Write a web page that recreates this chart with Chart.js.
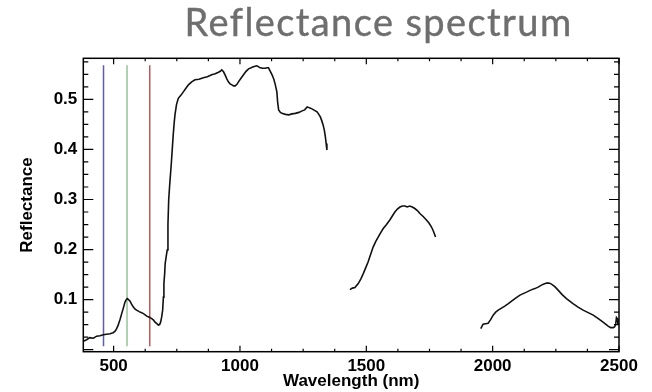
<!DOCTYPE html>
<html>
<head>
<meta charset="utf-8">
<script src="https://cdn.jsdelivr.net/npm/chart.js@4/dist/chart.umd.min.js"></script>
<style>
html,body{margin:0;padding:0;background:#fff;}
#wrap{position:relative;width:652px;height:392px;overflow:hidden;}
#title{position:absolute;left:104px;top:-1px;width:549px;text-align:center;font-family:Lato,"Open Sans",sans-serif;font-size:38px;line-height:1.2;letter-spacing:1.4px;color:#6e6e6e;white-space:nowrap;-webkit-text-stroke:0.4px #6e6e6e;}
#c{position:absolute;left:0;top:0;}
</style>
</head>
<body>
<div id="wrap">
<canvas id="c" width="652" height="392"></canvas>
<div id="title">Reflectance spectrum</div>
</div>
<script>
// ---- data ----
const seg1Wavelength = [380,393,406,420,433,446,459,472,486,498,506,512,518,525,532,539,545,550,554,559,565,571,578,585,591,601,611,621,631,641,651,658,664,671,677,682,686,690,694,697,699,702,704,708,712,715,718,722,728,732,736,740,743,749,756,766,776,786,796,809,822,838,855,871,888,902,915,922,928,935,941,948,954,961,968,975,981,988,994,1004,1014,1024,1034,1044,1053,1060,1067,1074,1080,1090,1100,1107,1113,1120,1127,1134,1140,1146,1149,1153,1160,1166,1180,1193,1206,1219,1233,1246,1256,1266,1275,1285,1295,1305,1312,1318,1324,1329,1334,1338,1341,1344];
const seg1Reflectance = [0.017,0.020,0.024,0.023,0.027,0.028,0.030,0.031,0.032,0.034,0.037,0.042,0.049,0.060,0.072,0.084,0.095,0.100,0.102,0.100,0.097,0.091,0.085,0.081,0.079,0.076,0.074,0.071,0.067,0.065,0.062,0.059,0.055,0.052,0.049,0.050,0.055,0.065,0.079,0.105,0.132,0.152,0.172,0.186,0.199,0.250,0.300,0.330,0.370,0.400,0.430,0.455,0.470,0.490,0.502,0.508,0.515,0.522,0.529,0.535,0.539,0.540,0.543,0.545,0.549,0.551,0.554,0.556,0.559,0.555,0.549,0.541,0.535,0.531,0.529,0.527,0.527,0.530,0.535,0.542,0.549,0.556,0.561,0.563,0.565,0.566,0.567,0.565,0.563,0.562,0.562,0.563,0.563,0.556,0.549,0.540,0.529,0.515,0.495,0.479,0.474,0.472,0.470,0.469,0.471,0.472,0.474,0.477,0.479,0.485,0.483,0.481,0.478,0.475,0.470,0.465,0.457,0.449,0.438,0.425,0.412,0.399];

const seg2Wavelength = [1435,1445,1455,1468,1478,1488,1497,1507,1517,1527,1537,1547,1557,1567,1580,1593,1603,1613,1623,1633,1643,1653,1662,1672,1682,1692,1702,1712,1725,1738,1748,1758,1766,1774];
const seg2Reflectance = [0.120,0.123,0.124,0.132,0.141,0.152,0.163,0.175,0.190,0.205,0.216,0.225,0.234,0.242,0.250,0.259,0.267,0.275,0.281,0.285,0.287,0.287,0.285,0.287,0.285,0.282,0.278,0.272,0.266,0.259,0.253,0.245,0.236,0.225];

const seg3Wavelength = [1953,1962,1972,1982,1992,2002,2012,2022,2035,2048,2062,2075,2091,2108,2121,2134,2150,2167,2180,2193,2203,2213,2223,2233,2246,2259,2275,2292,2305,2318,2338,2358,2378,2398,2418,2437,2447,2457,2467,2477,2483,2487,2490,2493,2496];
const seg3Reflectance = [0.042,0.051,0.052,0.053,0.060,0.069,0.075,0.079,0.083,0.087,0.092,0.097,0.103,0.109,0.112,0.115,0.119,0.122,0.125,0.129,0.131,0.133,0.133,0.131,0.126,0.119,0.110,0.102,0.097,0.092,0.085,0.079,0.074,0.069,0.062,0.055,0.051,0.047,0.044,0.044,0.046,0.052,0.064,0.062,0.050];

const bandWavelengths = [460, 553, 643];      // blue, green, red marker lines
const bandReflectanceRange = [0.007, 0.568];  // vertical extent of marker lines

const xTickValues = [500, 1000, 1500, 2000, 2500];
const yTickValues = [0.1, 0.2, 0.3, 0.4, 0.5];
const xMinorStep = 125;
const yMinorStep = 0.025;

// ---- chart ----
const toPts = (xs, ys) => xs.map((x, i) => ({x: x, y: ys[i]}));
const bandColors = ['#5e5ea8', '#95c495', '#b85a5a'];

const curveStyle = {borderColor: '#111', borderWidth: 1.6, pointRadius: 0, tension: 0, fill: false};
const datasets = [
  Object.assign({label: 'seg1', data: toPts(seg1Wavelength, seg1Reflectance)}, curveStyle),
  Object.assign({label: 'seg2', data: toPts(seg2Wavelength, seg2Reflectance)}, curveStyle),
  Object.assign({label: 'seg3', data: toPts(seg3Wavelength, seg3Reflectance)}, curveStyle)
];
bandWavelengths.forEach((w, i) => {
  datasets.push({
    label: 'band' + i,
    data: bandReflectanceRange.map(r => ({x: w, y: r})),
    borderColor: bandColors[i], borderWidth: 1.5, pointRadius: 0, fill: false
  });
});

const tickFont = {family: '"Liberation Sans", Arial, sans-serif', weight: 'bold', size: 17};

const frameTicks = {
  id: 'frameTicks',
  afterDatasetsDraw(chart) {
    const {ctx, chartArea: a, scales: {x, y}} = chart;
    ctx.save();
    ctx.strokeStyle = '#000';
    ctx.lineWidth = 1.2;
    ctx.beginPath();
    for (let k = Math.ceil(x.min / xMinorStep); k * xMinorStep <= x.max + 1e-9; k++) {
      const v = k * xMinorStep;
      const px = x.getPixelForValue(v);
      const len = (v % 500 === 0) ? 6 : 3;
      ctx.moveTo(px, a.bottom); ctx.lineTo(px, a.bottom - len);
      ctx.moveTo(px, a.top); ctx.lineTo(px, a.top + len);
    }
    for (let k = Math.ceil(y.min / yMinorStep - 1e-9); k * yMinorStep <= y.max + 1e-9; k++) {
      const v = k * yMinorStep;
      const py = y.getPixelForValue(v);
      const len = (k % 4 === 0) ? 10 : 5;
      ctx.moveTo(a.left, py); ctx.lineTo(a.left + len, py);
      ctx.moveTo(a.right, py); ctx.lineTo(a.right - len, py);
    }
    ctx.stroke();
    ctx.lineWidth = 1.5;
    ctx.strokeRect(a.left, a.top, a.right - a.left, a.bottom - a.top);
    ctx.restore();
  }
};

new Chart(document.getElementById('c'), {
  type: 'line',
  data: {datasets: datasets},
  options: {
    responsive: false,
    animation: false,
    events: [],
    layout: {padding: {top: 58.3, right: 33, bottom: 0, left: 0}},
    plugins: {legend: {display: false}, tooltip: {enabled: false}, title: {display: false}},
    scales: {
      x: {
        type: 'linear', min: 380, max: 2500,
        afterBuildTicks: s => { s.ticks = xTickValues.map(v => ({value: v})); },
        afterFit: s => { s.height = 40.3; s.paddingLeft = 0; s.paddingRight = 0; },
        grid: {display: false, drawTicks: false, tickLength: 0},
        border: {display: false},
        ticks: {font: tickFont, color: '#000', padding: 4, maxRotation: 0, autoSkip: false, callback: v => String(v)},
        title: {display: true, text: 'Wavelength (nm)', font: tickFont, color: '#000', padding: {top: 0, bottom: 0.5}}
      },
      y: {
        type: 'linear', min: -0.004, max: 0.582,
        afterBuildTicks: s => { s.ticks = yTickValues.map(v => ({value: v})); },
        afterFit: s => { s.width = 83.3; s.paddingTop = 0; s.paddingBottom = 0; },
        grid: {display: false, drawTicks: false, tickLength: 0},
        border: {display: false},
        ticks: {font: tickFont, color: '#000', padding: 6, autoSkip: false, callback: v => Number(v).toFixed(1)},
        title: {display: true, text: 'Reflectance', font: tickFont, color: '#000', padding: {top: 17, bottom: 0}}
      }
    }
  },
  plugins: [frameTicks]
});
</script>
</body>
</html>
